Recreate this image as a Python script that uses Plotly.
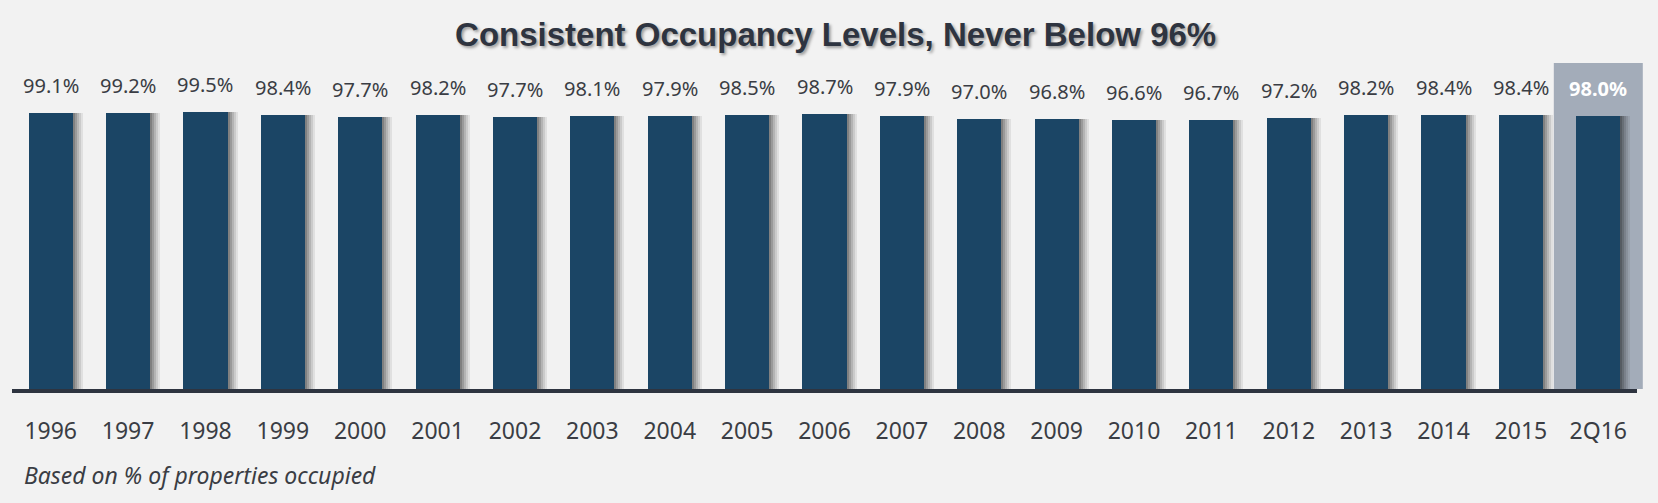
import plotly.graph_objects as go

categories = ["1996", "1997", "1998", "1999", "2000", "2001", "2002", "2003", "2004", "2005",
              "2006", "2007", "2008", "2009", "2010", "2011", "2012", "2013", "2014", "2015", "2Q16"]
occupancy = [99.1, 99.2, 99.5, 98.4, 97.7, 98.2, 97.7, 98.1, 97.9, 98.5,
             98.7, 97.9, 97.0, 96.8, 96.6, 96.7, 97.2, 98.2, 98.4, 98.4, 98.0]
highlight_index = 20

title_text = "Consistent Occupancy Levels, Never Below 96%"
footnote_text = "Based on % of properties occupied"

W, H = 1658, 503
ML, MR, MT, MB = 12, 21, 63, 114
BAR_COLOR = "#1b4565"
BG = "#f2f2f2"
TEXT_COLOR = "#3a3d44"
n = len(categories)
idx = list(range(n))
bar_w = 0.57
px_per_unit = (W - ML - MR) / n

fig = go.Figure()

# shadow layers (decorative)
for dpx, a in [(10, 0.07), (8, 0.09), (6, 0.11), (4, 0.14), (2, 0.17)]:
    fig.add_trace(go.Bar(
        x=idx, y=occupancy, width=bar_w, offset=-bar_w / 2 + dpx / px_per_unit,
        marker=dict(color=f"rgba(0,0,0,{a})", line=dict(width=0)),
        hoverinfo="skip", showlegend=False))

fig.add_trace(go.Bar(
    x=idx, y=occupancy, width=bar_w, offset=-bar_w / 2,
    marker=dict(color=BAR_COLOR, line=dict(width=0)),
    showlegend=False,
    hovertemplate="%{customdata}: %{y:.1f}%<extra></extra>",
    customdata=categories))

annotations = []
for i, (c, v) in enumerate(zip(categories, occupancy)):
    is_h = i == highlight_index
    annotations.append(dict(
        x=i, y=v, xref="x", yref="y", text=(f"<b>{v:.1f}%</b>" if is_h else f"{v:.1f}%"),
        showarrow=False, yanchor="bottom", yshift=12,
        font=dict(family="Noto Sans", size=20, color="#ffffff" if is_h else TEXT_COLOR)))

annotations.append(dict(
    x=(22 - ML) / (W - ML - MR), y=-(475 - (H - MB)) / (H - MT - MB), xref="paper", yref="paper",
    xanchor="left", yanchor="middle", showarrow=False, text=f"<i>{footnote_text}</i>",
    font=dict(family="Noto Sans", size=23, color=TEXT_COLOR)))

hl_x0 = (highlight_index + 0.5 - 0.575) / n
hl_x1 = (highlight_index + 0.5 + 0.575) / n

fig.update_layout(
    width=W, height=H,
    paper_bgcolor=BG, plot_bgcolor=BG,
    margin=dict(l=ML, r=MR, t=MT, b=MB),
    barmode="overlay",
    bargap=0,
    title=dict(text=f"<b>{title_text}</b>", x=0.504, xanchor="center", y=1 - 34 / H, yanchor="middle",
               font=dict(family="Liberation Sans, Arial, sans-serif", size=33, color="#2e3440",
                         shadow="2px 2px 3px rgba(0,0,0,0.35)")),
    xaxis=dict(tickmode="array", tickvals=idx, ticktext=categories, range=[-0.5, n - 0.5],
               showline=True, linecolor="#2e3440", linewidth=4, showgrid=False, zeroline=False,
               ticks="outside", ticklen=18, tickcolor=BG,
               tickfont=dict(family="Noto Sans", size=23, color=TEXT_COLOR), fixedrange=True),
    yaxis=dict(range=[0, 117], visible=False, showgrid=False, zeroline=False, fixedrange=True),
    shapes=[dict(type="rect", xref="paper", yref="paper", x0=hl_x0, x1=hl_x1, y0=0, y1=1,
                 fillcolor="#a3acb9", line=dict(width=0), layer="below")],
    annotations=annotations,
)

fig.write_html("out.html", config={"displayModeBar": False},
               post_script="document.body.style.margin='0';document.body.style.overflow='hidden';")
